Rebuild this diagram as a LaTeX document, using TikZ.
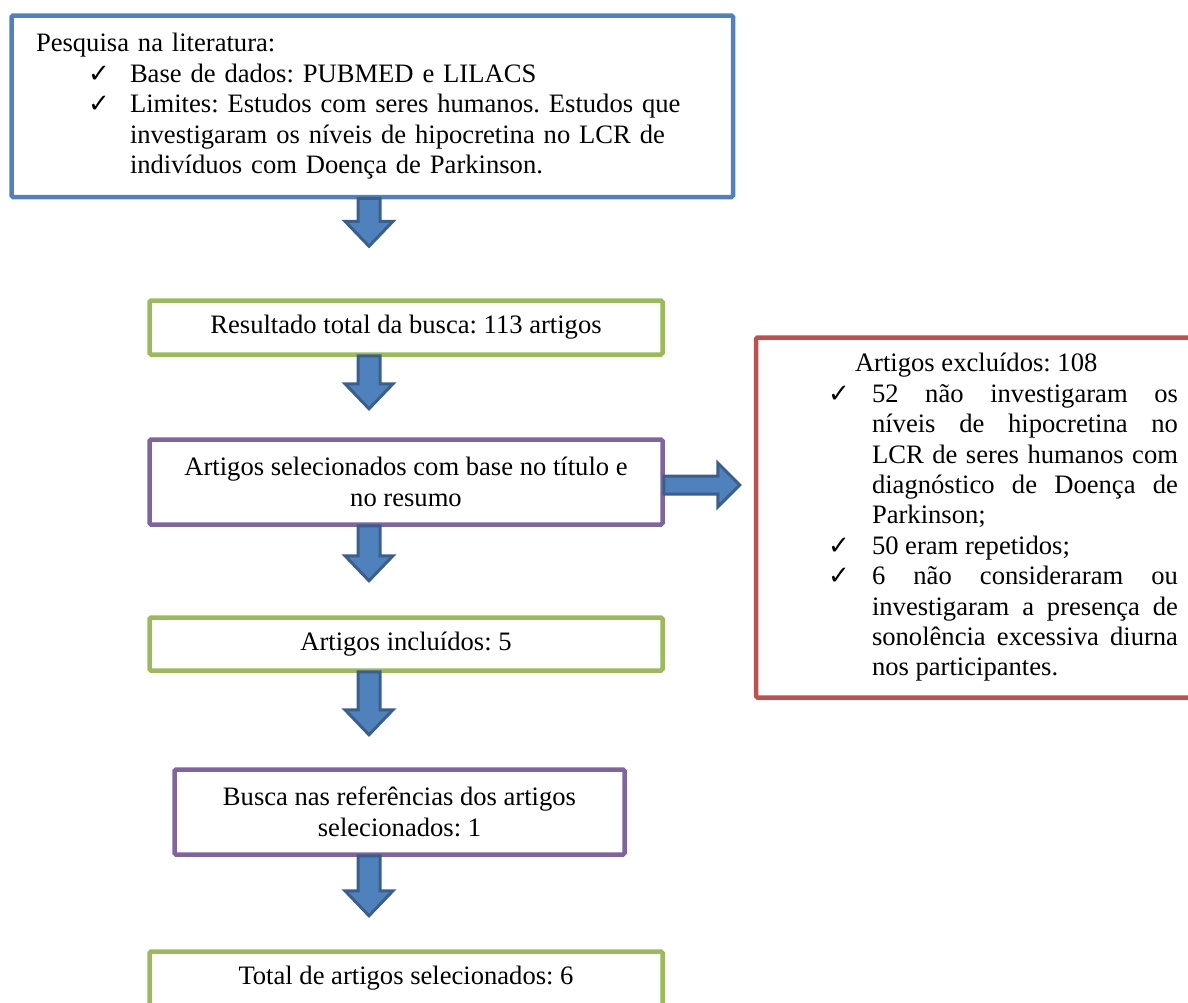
\documentclass[tikz,border=0pt]{standalone}
\usepackage{fontspec}
\setmainfont{Liberation Serif}
\newfontfamily\ckfont{DejaVu Sans}
\usetikzlibrary{calc}
\definecolor{cblue}{HTML}{4F81BD}
\definecolor{cgreen}{HTML}{9BBB59}
\definecolor{cpurple}{HTML}{8064A2}
\definecolor{cred}{HTML}{C0504D}
\definecolor{adark}{HTML}{3A5F8C}
\frenchspacing
\newcommand\ckbox[1]{\makebox[#1][l]{\ckfont\fontsize{26}{26}\selectfont ✓}}
\newcommand\darrow[2]{\begin{scope}[shift={(#1.south -| ax)}]
  \filldraw[barrow] (-11,1) -- (-11,{25-#2}) -- (-24,{25-#2}) -- (0,-#2) -- (24,{25-#2}) -- (11,{25-#2}) -- (11,1) -- cycle;
\end{scope}}
\begin{document}
\begin{tikzpicture}[x=1pt,y=1pt,
  every node/.style={font=\fontsize{26.6}{30.4}\selectfont\frenchspacing},
  box/.style={draw=#1, line width=4.5pt, rounded corners=1.5pt, fill=white, inner sep=0pt},
  barrow/.style={fill=cblue, draw=adark, line width=3pt, line join=miter}]
\useasboundingbox (0,0) rectangle (1188,-1002);
\coordinate (ax) at (369,0);

\node[box=cblue, minimum width=721.5, minimum height=181.5, text width=672.5, align=left] (lit) at (372.25,-106.25)
{Pesquisa na literatura:\\
\hspace*{52pt}\ckbox{42pt}Base de dados: PUBMED e LILACS\\
\hspace*{52pt}\ckbox{42pt}Limites: Estudos com seres humanos. Estudos que\\
\hspace*{94pt}investigaram os níveis de hipocretina no LCR de\\
\hspace*{94pt}indivíduos com Doença de Parkinson.};

\node[box=cgreen, minimum width=513, minimum height=54, align=center] (res) at (406,-327.5)
{Resultado total da busca: 113 artigos};

\node[box=cpurple, minimum width=513, minimum height=85, align=center] (sel) at (406,-482)
{Artigos selecionados com base no título e\\no resumo};

\node[box=cgreen, minimum width=513, minimum height=53, align=center] (inc) at (406,-644)
{Artigos incluídos: 5};

\node[box=cpurple, minimum width=450, minimum height=85, align=center] (ref) at (399.5,-812)
{Busca nas referências dos artigos\\selecionados: 1};

\node[box=cgreen, minimum width=513, minimum height=54, align=center] (tot) at (406,-978.5)
{Total de artigos selecionados: 6};

\node[box=cred, minimum width=494, minimum height=360, text width=350, align=justify] (exc) at (1003,-517.5)
{\tolerance=10000\hyphenpenalty=10000
\hspace*{27pt}Artigos excluídos: 108\par
{\leftskip=44pt\noindent\llap{\ckbox{44pt}}52 não investigaram os\linebreak níveis de hipocretina no\linebreak LCR de seres humanos com\linebreak diagnóstico de Doença de\linebreak Parkinson;\par}
{\leftskip=44pt\noindent\llap{\ckbox{44pt}}50 eram repetidos;\par}
{\leftskip=44pt\noindent\llap{\ckbox{44pt}}6 não consideraram ou\linebreak investigaram a presença de\linebreak sonolência excessiva diurna\linebreak nos participantes.\par}};

\darrow{lit}{47}
\darrow{res}{52}
\darrow{sel}{54}
\darrow{inc}{62}
\darrow{ref}{59}

\begin{scope}[shift={($(sel.east)+(-1,-3)$)}]
  \filldraw[barrow] (0,9) -- (54,9) -- (54,22) -- (76,0) -- (54,-22) -- (54,-9) -- (0,-9) -- cycle;
\end{scope}
\end{tikzpicture}
\end{document}
